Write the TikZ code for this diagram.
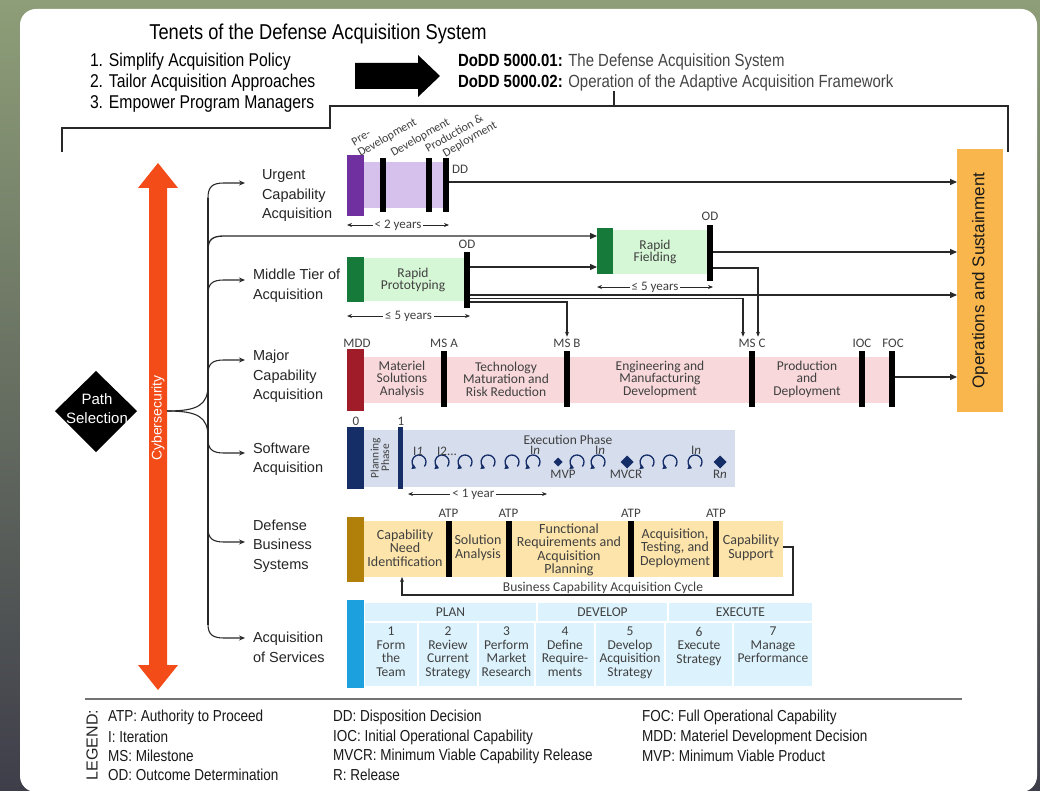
\documentclass[tikz,border=0pt]{standalone}
\usepackage{fontspec}
\setmainfont{Liberation Sans}
\newfontfamily\condf[FakeStretch=0.85]{Liberation Sans}
\newfontfamily\calib{Carlito}
\usetikzlibrary{arrows.meta,shapes.geometric,calc}
\definecolor{bgA}{RGB}{142,158,120}
\definecolor{bgB}{RGB}{88,110,112}
\definecolor{bgC}{RGB}{62,62,74}
\definecolor{ucaD}{RGB}{112,48,160}
\definecolor{ucaL}{RGB}{214,192,236}
\definecolor{mtaD}{RGB}{22,122,58}
\definecolor{mtaL}{RGB}{214,247,214}
\definecolor{mcaD}{RGB}{160,28,40}
\definecolor{mcaL}{RGB}{248,216,218}
\definecolor{swD}{RGB}{22,46,104}
\definecolor{swL}{RGB}{214,222,238}
\definecolor{dbsD}{RGB}{176,128,10}
\definecolor{dbsL}{RGB}{252,228,170}
\definecolor{aosD}{RGB}{28,160,222}
\definecolor{aosL}{RGB}{220,242,252}
\definecolor{osO}{RGB}{249,182,76}
\definecolor{cyb}{RGB}{243,76,24}
\definecolor{ln}{RGB}{40,40,40}
\definecolor{txt}{RGB}{64,64,64}
\definecolor{txg}{RGB}{70,70,70}
\newcommand\fsz[2]{\fontsize{#1}{#2}\selectfont}
\begin{document}
\begin{tikzpicture}[x=1pt,y=-1pt,
  every node/.style={inner sep=0pt,outer sep=0pt},
  conn/.style={draw=ln,line width=1.3pt},
  arr/.style={conn,-{Triangle[length=7pt,width=6pt]}},
  arrs/.style={draw=ln,line width=1.1pt,-{Stealth[length=5pt,width=4pt]}},
  br/.style={draw=ln,line width=1.1pt,-{Stealth[length=6pt,width=5pt]}},
  dim/.style={draw=ln,line width=0.9pt,{Stealth[length=5pt,width=4pt]}-{Stealth[length=5pt,width=4pt]}},
  dimtxt/.style={fill=white,inner xsep=2pt,inner ysep=1pt,font=\calib\fsz{13}{13},text=txt},
  msbar/.style={fill=black,minimum width=6pt,minimum height=#1},
  phase/.style={font=\calib\fsz{13.5}{12.5},text=txt,align=center},
  phaseb/.style={font=\calib\fsz{14}{13.5},text=txt,align=center},
  mslab/.style={font=\calib\fsz{13}{13},text=txt},
  rot/.style={rotate=30,font=\calib\fsz{12}{12.5},text=txt,anchor=south west,align=left},
  side/.style={font=\fsz{14.5}{19.5},align=left,anchor=west,text=black!85},
  cellc/.style={fill=aosL,font=\calib\fsz{13.5}{13.5},text=txt,align=center},
  celltx/.style={font=\calib\fsz{13.5}{13.5},text=txt,align=center,anchor=north},
  leg/.style={font=\condf\fsz{15.9}{19},anchor=west,text=black!90}
]
% background and card
\shade[top color=bgA, middle color=bgB, bottom color=bgC] (0,0) rectangle (1040,791);
\useasboundingbox (0,0) rectangle (1040,791);
\fill[white, rounded corners=16pt] (20,9) rectangle (1037,792);

% header
\node[font=\condf\fsz{21.5}{24}] (title) at (318,34) {Tenets of the Defense Acquisition System};
\node[font=\condf\fsz{18.5}{21}, anchor=west] (t1) at (90,62) {1. Simplify Acquisition Policy};
\node[font=\condf\fsz{18.5}{21}, anchor=west] (t2) at (90,83) {2. Tailor Acquisition Approaches};
\node[font=\condf\fsz{18.5}{21}, anchor=west] (t3) at (90,104) {3. Empower Program Managers};
\fill[black] (355,63) -- (418,63) -- (418,55) -- (440,76) -- (418,97) -- (418,89) -- (355,89) -- cycle;
\node[font=\condf\fsz{17.6}{21}, anchor=west] (d1) at (458,62) {\textbf{DoDD 5000.01:} \textcolor{txg}{The Defense Acquisition System}};
\node[font=\condf\fsz{17.6}{21}, anchor=west] (d2) at (458,83) {\textbf{DoDD 5000.02:} \textcolor{txg}{Operation of the Adaptive Acquisition Framework}};
\draw[ln, line width=1.2pt] (62,152) -- (62,128) -- (330,128) -- (330,106) -- (1008,106) -- (1008,152);
\draw[ln, line width=1.2pt] (614,0 |- d2.south) -- (614,106);

% operations and sustainment
\node[fill=osO, minimum width=46pt, minimum height=263pt] (ops) at (980,280.5) {};
\node[rotate=90, font=\fsz{17}{17}, text=black!90] at (ops.center) {Operations and Sustainment};

% cybersecurity arrow
\fill[cyb] (158,163) -- (178,188) -- (167,188) -- (167,665) -- (178,665) -- (158,690) -- (138,665) -- (149,665) -- (149,188) -- (138,188) -- cycle;
\node[rotate=90, text=white, font=\fsz{14}{14}] (cyber) at (158,418) {Cybersecurity};

% path selection
\fill[black] (96,371) -- (137,411) -- (96,452) -- (55,411) -- cycle;
\node[text=white, font=\fsz{15}{19}, align=center] (ps) at (97,409) {Path\\Selection};

% side labels
\node[side] (lUCA) at (262,196) {Urgent\\Capability\\Acquisition};
\node[side] (lMTA) at (253,286) {Middle Tier of\\Acquisition};
\node[side] (lMCA) at (253,376.5) {Major\\Capability\\Acquisition};
\node[side] (lSWA) at (253,459.5) {Software\\Acquisition};
\node[side] (lDBS) at (253,546) {Defense\\Business\\Systems};
\node[side] (lAOS) at (253,647.5) {Acquisition\\of Services};

% tree
\draw[conn, line width=1.1pt] (167,411) .. controls (198,411) and (208,405) .. (208,385);
\draw[conn, line width=1.1pt] (167,411) .. controls (198,411) and (208,417) .. (208,437);
\draw[conn, line width=1.1pt] (208,198) -- (208,625);
\draw[br, shorten >=17pt] (208,198) .. controls (208,187) and (212,183) .. (224,183) -- (lUCA.west |- 0,183);
\draw[br, shorten >=8pt] (208,294) .. controls (208,284) and (212,280) .. (224,280) -- (lMTA.west |- 0,280);
\draw[br, shorten >=8pt] (208,374) .. controls (208,364) and (212,360) .. (224,360) -- (lMCA.west |- 0,360);
\draw[br, shorten >=8pt] (208,439) .. controls (208,449) and (212,453) .. (224,453) -- (lSWA.west |- 0,453);
\draw[br, shorten >=8pt] (208,528) .. controls (208,538) and (212,542) .. (224,542) -- (lDBS.west |- 0,542);
\draw[br, shorten >=8pt] (208,624) .. controls (208,634) and (212,638) .. (224,638) -- (lAOS.west |- 0,638);

% urgent capability
\node[fill=ucaL, minimum width=84pt, minimum height=46pt] (ucaBand) at (406,185) {};
\node[fill=ucaD, minimum width=17pt, minimum height=61pt] (nUcaD) at (355.5,185.5) {};
\node[msbar=54pt] (u1) at (383,185) {};
\node[msbar=54pt] (u2) at (429,185) {};
\node[msbar=54pt] (u3) at (446,185) {};
\node[mslab, anchor=west] (dd) at (452,169) {DD};
\node[rot] (rPre) at (361.5,158.6) {Pre-\\Development};
\node[rot] (rDev) at (394.5,158.6) {Development};
\node[rot] (rPro) at (435.4,165.2) {Production \&\\\hspace*{13pt}Deployment};
\draw[dim] (nUcaD.west |- 0,225) -- (u3.east |- 0,225) node[midway, dimtxt] {< 2 years};

% middle tier
\node[fill=mtaL, minimum width=103pt, minimum height=43pt] (rpBand) at (415.5,279.5) {};
\node[fill=mtaD, minimum width=17pt, minimum height=45pt] (rpD) at (355.5,279.5) {};
\node[msbar=56pt] (rpBar) at (467,280) {};
\node[mslab] at (467,244) {OD};
\node[phase] (rpT) at (413,280) {Rapid\\Prototyping};
\draw[dim] (rpD.west |- 0,316) -- (rpBar.east |- 0,316) node[midway, dimtxt] {≤ 5 years};
\node[fill=mtaL, minimum width=94pt, minimum height=44pt] (rfBand) at (660,252) {};
\node[fill=mtaD, minimum width=16pt, minimum height=46pt] (rfD) at (605,251) {};
\node[msbar=56pt] (rfBar) at (710,253) {};
\node[mslab] at (710,216) {OD};
\node[phase] (rfT) at (655,252) {Rapid\\Fielding};
\draw[dim] (rfD.west |- 0,287) -- (rfBar.east |- 0,287) node[midway, dimtxt] {≤ 5 years};
\draw[conn, -{Triangle[length=7pt,width=6pt]}] (208,250) .. controls (208,240) and (212,236) .. (224,236) -- (rfD.west |- 0,236);

% major capability
\node[fill=mcaL, minimum width=526pt, minimum height=46pt] (mcaBand) at (627,380) {};
\node[fill=mcaD, minimum width=17pt, minimum height=62pt] (nMcaD) at (355.5,380) {};
\node[msbar=56pt] (msA) at (444,379) {};
\node[msbar=56pt] (msB) at (567,379) {};
\node[msbar=56pt] (msC) at (752,379) {};
\node[msbar=56pt] (ioc) at (862,379) {};
\node[msbar=56pt] (foc) at (892,379) {};
\node[mslab] (lMDD) at (357,343) {MDD};
\node[mslab] (lMSA) at (444,343) {MS A};
\node[mslab] (lMSB) at (567,343) {MS B};
\node[mslab] (lMSC) at (752,343) {MS C};
\node[mslab] (lIOC) at (862,343) {IOC};
\node[mslab] (lFOC) at (893,343) {FOC};
\node[phase] at (402,379) {Materiel\\Solutions\\Analysis};
\node[phase] at (506,379) {Technology\\Maturation and\\Risk Reduction};
\node[phase] at (660,379) {Engineering and\\Manufacturing\\Development};
\node[phase] at (807,379) {Production\\and\\Deployment};

% connectors middle tier / major
\draw[arr] (u3.east |- 0,182) -- (ops.west |- 0,182);
\draw[arr] (rpBar.east |- 0,267) -- (rfD.west |- 0,267);
\draw[arr] (rfBar.east |- 0,252) -- (ops.west |- 0,252);
\draw[arr] (rpBar.east |- 0,295) -- (ops.west |- 0,295);
\draw[arrs, shorten >=2pt] (rpBar.east |- 0,298.5) -| (743,0 |- lMSC.north);
\draw[arrs, shorten >=2pt] (rpBar.east |- 0,302) -| (lMSB.north);
\draw[arrs, shorten >=2pt] (rfBar.east |- 0,268) -| (758,0 |- lMSC.north);
\draw[arr] (foc.east |- 0,377) -- (ops.west |- 0,377);

% software
\node[fill=swL, minimum width=371pt, minimum height=57pt] (swBand) at (549.5,458.5) {};
\node[fill=swD, minimum width=17pt, minimum height=62pt] (nSwD) at (355.5,458) {};
\node[fill=swD, minimum width=5pt, minimum height=62pt] (swB1) at (400.5,458) {};
\node[mslab] at (356,421) {0};
\node[mslab] at (401,421) {1};
\node[rotate=90, font=\calib\fsz{11.5}{10.5}, text=txt, align=center] at (380,458) {Planning\\Phase};
\node[phase] at (568,440) {Execution Phase};
\foreach \lx in {419,442,465,488,512,533,577,598,647,670,695} {
  \draw[swD, line width=1.3pt, -{Triangle[length=4pt,width=5pt]}] (\lx,462) ++(-40:7pt) arc[start angle=-40, end angle=245, radius=7pt];
}
\node[diamond, fill=swD, minimum width=9pt, minimum height=9pt] (mvp) at (558,462) {};
\node[diamond, fill=swD, minimum width=13pt, minimum height=13pt] (mvcr) at (627,462) {};
\node[diamond, fill=swD, minimum width=13pt, minimum height=13pt] (rn) at (720,462) {};
\node[mslab] at (563,474) {MVP};
\node[mslab] at (626,474) {MVCR};
\node[mslab] at (720,474) {R\textit{n}};
\node[mslab] at (418,451) {I\textit{1}};
\node[mslab] at (447,451) {I2...};
\node[mslab] at (535,450) {I\textit{n}};
\node[mslab] at (600,450) {I\textit{n}};
\node[mslab] at (696,450) {I\textit{n}};
\draw[dim] (408,494) -- (547,494) node[pos=0.47, dimtxt] {< 1 year};

% defense business systems
\node[fill=dbsL, minimum width=419pt, minimum height=56pt] (dbsBand) at (573.5,549) {};
\node[fill=dbsD, minimum width=17pt, minimum height=65pt] (nDbsD) at (355.5,549.5) {};
\node[msbar=56pt] (atp1) at (448.5,549) {};
\node[msbar=56pt] (atp2) at (508.5,549) {};
\node[msbar=56pt] (atp3) at (631,549) {};
\node[msbar=56pt] (atp4) at (716,549) {};
\node[mslab] at (448.5,513) {ATP};
\node[mslab] at (508.5,513) {ATP};
\node[mslab] at (631,513) {ATP};
\node[mslab] at (716,513) {ATP};
\node[phaseb] at (405,548) {Capability\\Need\\Identification};
\node[phaseb] at (478,548) {Solution\\Analysis};
\node[phaseb] at (569,550) {Functional\\Requirements and\\Acquisition\\Planning};
\node[phaseb] at (675,548) {Acquisition,\\Testing, and\\Deployment};
\node[phaseb] at (751,548) {Capability\\Support};
\draw[arrs] (dbsBand.east |- 0,547) -- (793,547) -- (793,595) -- (402,595) -- (402,0 |- dbsBand.south);
\node[font=\calib\fsz{13.5}{13.5}, text=txt] at (603,588) {Business Capability Acquisition Cycle};

% acquisition of services
\node[fill=aosD, minimum width=17pt, minimum height=88pt] (nAosD) at (355.5,644) {};
\node[cellc, minimum width=171pt, minimum height=18pt] (plan) at (450.5,612) {PLAN};
\node[cellc, minimum width=129pt, minimum height=18pt] (dev) at (602.5,612) {DEVELOP};
\node[cellc, minimum width=143pt, minimum height=18pt] (exe) at (740.5,612) {EXECUTE};
\node[fill=aosL, minimum width=52pt, minimum height=63pt] (c1) at (391,654.5) {};
\node[fill=aosL, minimum width=58pt, minimum height=63pt] (c2) at (448,654.5) {};
\node[fill=aosL, minimum width=55pt, minimum height=63pt] (c3) at (506.5,654.5) {};
\node[fill=aosL, minimum width=58pt, minimum height=63pt] (c4) at (565,654.5) {};
\node[fill=aosL, minimum width=68pt, minimum height=63pt] (c5) at (630,654.5) {};
\node[fill=aosL, minimum width=66pt, minimum height=63pt] (c6) at (699,654.5) {};
\node[fill=aosL, minimum width=78pt, minimum height=63pt] (c7) at (773,654.5) {};
\node[celltx] at ([yshift=-4pt]c1.north) {1\\Form\\the\\Team};
\node[celltx] at ([yshift=-4pt]c2.north) {2\\Review\\Current\\Strategy};
\node[celltx] at ([yshift=-4pt]c3.north) {3\\Perform\\Market\\Research};
\node[celltx] at ([yshift=-4pt]c4.north) {4\\Define\\Require-\\ments};
\node[celltx] at ([yshift=-4pt]c5.north) {5\\Develop\\Acquisition\\Strategy};
\node[celltx] at ([yshift=-4pt]c6.north) {6\\Execute\\Strategy};
\node[celltx] at ([yshift=-4pt]c7.north) {7\\Manage\\Performance};

% legend
\draw[draw=black!55, line width=1.5pt] (85,699) -- (962,699);
\node[rotate=90, font=\fsz{16}{16}, text=black!85] (legT) at (92,745) {LEGEND:};
\node[leg] at (108,717) {ATP: Authority to Proceed};
\node[leg] at (108,737) {I: Iteration};
\node[leg] at (108,756) {MS: Milestone};
\node[leg] at (108,775) {OD: Outcome Determination};
\node[leg] at (333,717) {DD: Disposition Decision};
\node[leg] at (333,737) {IOC: Initial Operational Capability};
\node[leg] at (333,756) {MVCR: Minimum Viable Capability Release};
\node[leg] at (333,775) {R: Release};
\node[leg] at (642,717) {FOC: Full Operational Capability};
\node[leg] at (642,737) {MDD: Materiel Development Decision};
\node[leg] at (642,756) {MVP: Minimum Viable Product};
\end{tikzpicture}
\end{document}
